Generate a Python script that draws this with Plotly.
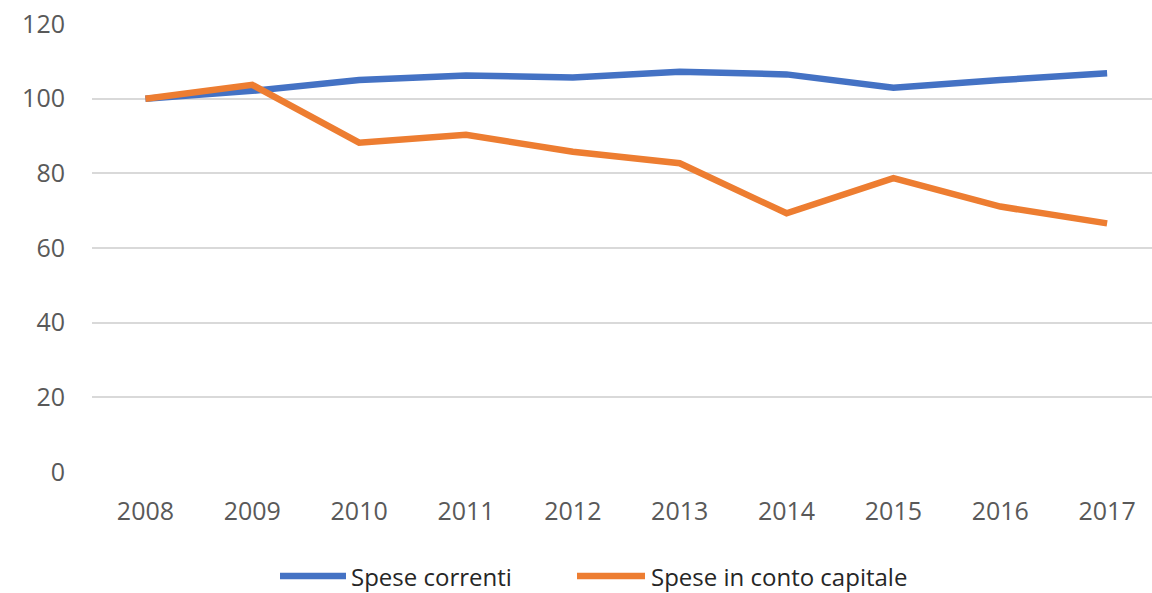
import plotly.graph_objects as go

years = ["2008", "2009", "2010", "2011", "2012", "2013", "2014", "2015", "2016", "2017"]
spese_correnti = [100, 102.1, 105.0, 106.2, 105.7, 107.2, 106.5, 102.9, 105.0, 106.8]
spese_capitale = [100, 103.7, 88.2, 90.3, 85.8, 82.7, 69.3, 78.7, 71.1, 66.6]
y_ticks = [0, 20, 40, 60, 80, 100, 120]

series = [
    ("Spese correnti", spese_correnti, "#4472C4"),
    ("Spese in conto capitale", spese_capitale, "#ED7D31"),
]

FONT = "Open Sans"
W, H = 1152, 593
ML, MR, MT, MB = 92, 0, 24, 121
PW, PH = W - ML - MR, H - MT - MB

fig = go.Figure()
for name, vals, color in series:
    fig.add_trace(go.Scatter(x=years, y=vals, mode="lines", name=name,
                             line=dict(color=color, width=6.5), showlegend=False))

# custom legend (long line swatches like the original)
legend_y = (H - MB - 576) / PH
legend_items = [(280, 346, 350), (577, 645, 650)]
for (name, _, color), (x0, x1, xt) in zip(series, legend_items):
    fig.add_shape(type="line", xref="paper", yref="paper",
                  x0=(x0 - ML) / PW, x1=(x1 - ML) / PW, y0=legend_y, y1=legend_y,
                  line=dict(color=color, width=6.5))
    fig.add_annotation(xref="paper", yref="paper", x=(xt - ML) / PW, y=legend_y,
                       text=name, showarrow=False, xanchor="left", yanchor="middle",
                       borderpad=0,
                       font=dict(size=24, color="#262626", family=FONT))

fig.update_layout(
    width=W, height=H,
    margin=dict(l=ML, r=MR, t=MT, b=MB, autoexpand=False),
    paper_bgcolor="white", plot_bgcolor="white",
    font=dict(family=FONT, size=25, color="#595959"),
    showlegend=False,
    xaxis=dict(type="category", range=[-0.5, 9.42], showgrid=False, zeroline=False,
               showline=False, ticks="", ticklabelstandoff=22, automargin=False,
               tickfont=dict(size=25, color="#595959")),
    yaxis=dict(range=[0, 120], tickvals=y_ticks, showgrid=True, gridcolor="#D9D9D9",
               gridwidth=1.5, zeroline=False, showline=False, ticks="", automargin=False,
               ticklabelstandoff=26, tickfont=dict(size=25, color="#595959")),
)

fig.write_html("out.html", config={"displayModeBar": False},
               post_script="document.body.style.margin='0';document.body.style.overflow='hidden';")
